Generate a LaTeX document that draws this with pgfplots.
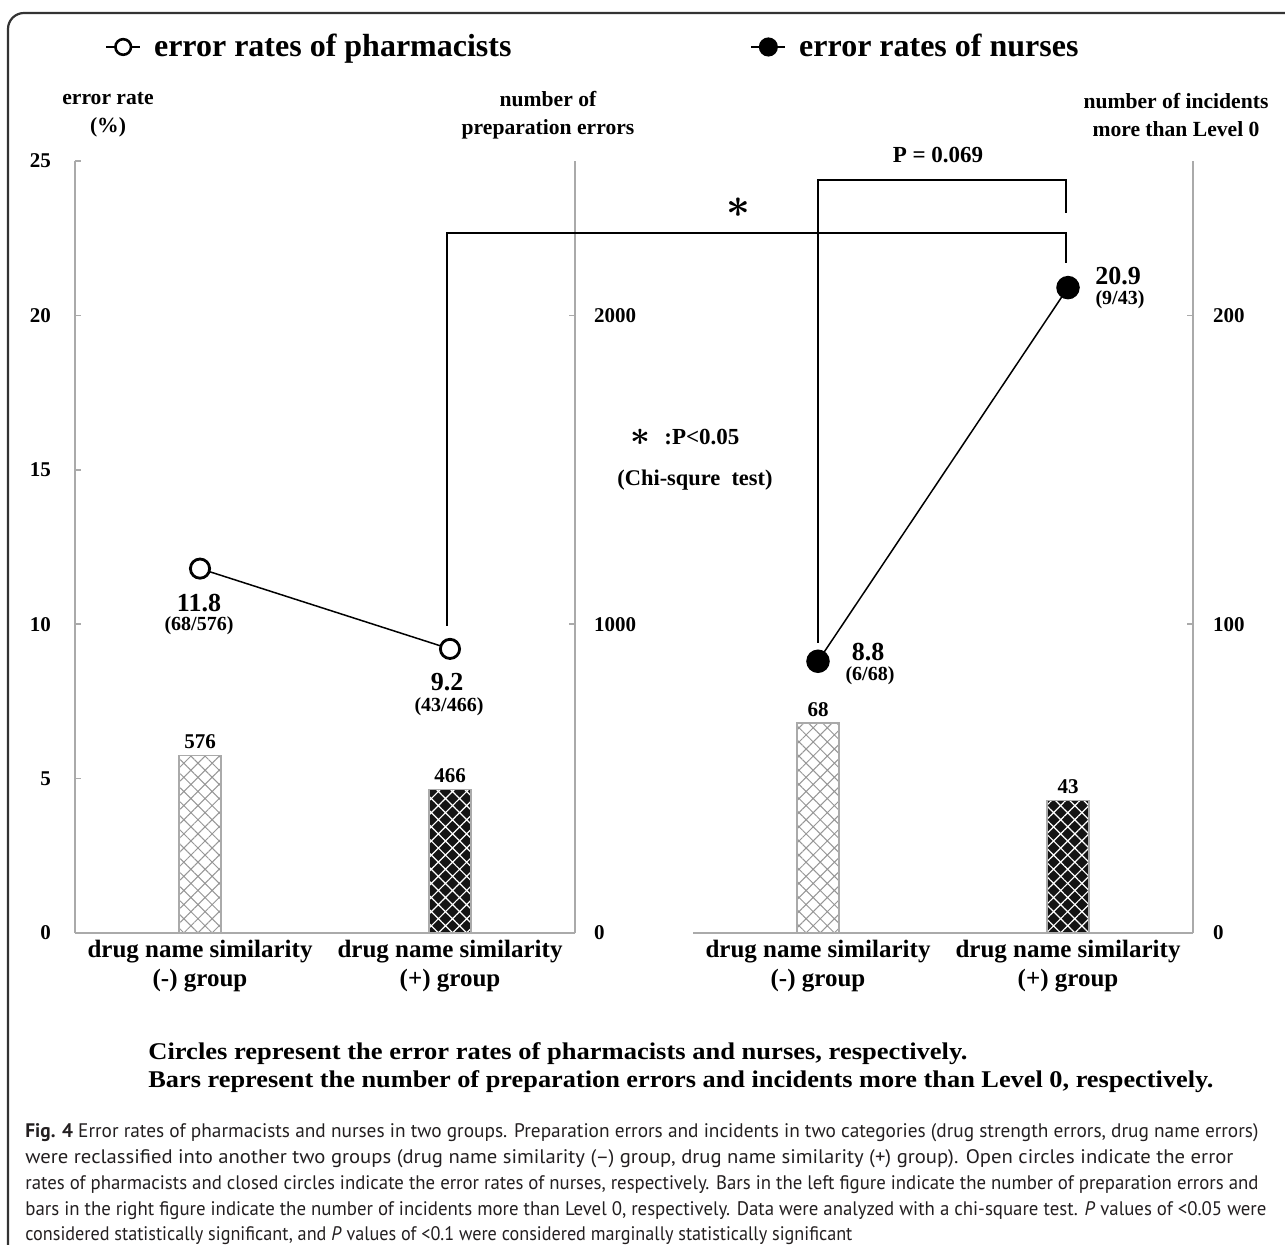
\documentclass[border=0pt]{standalone}
\usepackage{pgfplots}
\pgfplotsset{compat=1.18}
\usetikzlibrary{patterns.meta}
\usepackage{graphicx}
\usepackage{bm}
\usepackage{fontspec}
\setmainfont{Liberation Serif}
\newfontfamily\capfont{PT Sans}
\definecolor{axgray}{RGB}{170,170,170}
\definecolor{hatchgray}{RGB}{150,150,150}
\definecolor{captext}{RGB}{35,31,32}
\newcommand{\fs}[2]{\fontsize{#1}{#2}\selectfont}
\newcommand{\bast}{\ensuremath{\bm{\ast}}}
\pgfplotsset{
  panel/.style={
    scale only axis, width=250pt, height=386pt,
    xmin=-0.5, xmax=1.5, ymin=0, clip=false, anchor=south west,
    axis line style={axgray, line width=1pt, -},
    tick style={axgray, line width=0.8pt},
    major tick length=3pt, tick align=inside,
    /pgf/number format/1000 sep={},
    /pgf/number format/assume math mode=true,
    ticklabel style={font=\bfseries\fs{10.5}{12}},
    xticklabel style={align=center, font=\bfseries\fs{12.5}{14.5}},
    major x tick style={draw=none},
  },
  lightbar/.style={ybar, bar width=21pt, draw=axgray, line width=0.6pt,
    pattern={Hatch[angle=45,distance=5pt,line width=0.5pt]}, pattern color=hatchgray},
  darkbar/.style={ybar, bar width=21pt, draw=axgray, line width=0.6pt,
    pattern={Hatch[angle=45,distance=5pt,line width=0.6pt]}, pattern color=white},
  barlabel/.style={draw=none, mark=none, nodes near coords, point meta=y,
    every node near coord/.append style={font=\bfseries\fs{10.5}{12}, black, anchor=south, inner sep=3pt}},
}
\begin{document}
\begin{tikzpicture}
\path[use as bounding box] (0,0) rectangle (642.5pt,622pt);
\clip (0,0) rectangle (642.5pt,622pt);
\draw[line width=1.1pt, black!80, rounded corners=8pt] (4pt,-20pt) -- (4pt,615.5pt) -- (670pt,615.5pt);

% ---------- left panel: bars (number of preparation errors)
\begin{axis}[panel, at={(37.5pt,155.5pt)}, ymax=2500,
  axis y line*=right, axis x line=none, xtick=\empty,
  ytick={0,1000,2000}, yticklabel style={xshift=6pt}]
\addplot[ybar, bar width=21pt, draw=none, fill=white] coordinates {(0,576)};
\addplot[lightbar] coordinates {(0,576)};
\addplot[ybar, bar width=21pt, draw=none, fill=black!92] coordinates {(1,466)};
\addplot[darkbar] coordinates {(1,466)};
\addplot[barlabel] coordinates {(0,576) (1,466)};
\end{axis}

% ---------- left panel: error rates of pharmacists
\begin{axis}[panel, at={(37.5pt,155.5pt)}, ymax=25,
  axis x line*=bottom, axis y line*=left,
  ytick={0,5,10,15,20,25}, yticklabel style={xshift=-8.5pt},
  xtick={0,1},
  xticklabels={{drug name similarity\\(-) group},{drug name similarity\\(+) group}},
  legend columns=2, legend cell align=left,
  legend style={at={(0.06,1.1477)}, anchor=west, draw=none, fill=none, inner sep=0pt,
    font=\bfseries\fs{16}{18}, nodes={inner sep=0pt},
    /tikz/every odd column/.append style={column sep=6.5pt},
    /tikz/every even column/.append style={column sep=119.5pt}}]
% significance brackets
\addplot[black, line width=0.75pt, forget plot] coordinates {(0.988,9.95) (0.988,22.67) (3.464,22.67) (3.464,21.7)};
\addplot[black, line width=0.75pt, forget plot] coordinates {(2.472,9.4) (2.472,24.38) (3.464,24.38) (3.464,23.3)};
\addplot[black, line width=0.75pt, mark=*, mark size=4.8pt,
  mark options={line width=1.4pt, fill=white, draw=black}, forget plot] coordinates {(0,11.8) (1,9.2)};
\addlegendimage{black, line width=0.75pt, mark=*, mark size=3.9pt, mark options={line width=1.3pt, fill=white, draw=black}}
\addlegendentry{error rates of pharmacists}
\addlegendimage{black, line width=0.75pt, mark=*, mark size=4.4pt}
\addlegendentry{error rates of nurses}
\end{axis}

% ---------- right panel: bars (number of incidents)
\begin{axis}[panel, at={(346.5pt,155.5pt)}, ymax=250,
  axis y line*=right, axis x line=none, xtick=\empty,
  ytick={0,100,200}, yticklabel style={xshift=6.5pt}]
\addplot[ybar, bar width=21pt, draw=none, fill=white] coordinates {(0,68)};
\addplot[lightbar] coordinates {(0,68)};
\addplot[ybar, bar width=21pt, draw=none, fill=black!92] coordinates {(1,43)};
\addplot[darkbar] coordinates {(1,43)};
\addplot[barlabel] coordinates {(0,68) (1,43)};
\end{axis}

% ---------- right panel: error rates of nurses
\begin{axis}[panel, at={(346.5pt,155.5pt)}, ymax=25,
  axis x line*=bottom, axis y line=none, ytick=\empty,
  xtick={0,1},
  xticklabels={{drug name similarity\\(-) group},{drug name similarity\\(+) group}}]
\addplot[black, line width=0.75pt, mark=*, mark size=5.5pt] coordinates {(0,8.8) (1,20.9)};
\end{axis}

% ---------- free text (pixel coordinates)
\begin{scope}[x=0.5pt, y=-0.5pt, shift={(0pt,622pt)}]
\node[font=\bfseries\fs{10.8}{14}, align=center] at (108,115) {error rate\\(\%)};
\node[font=\bfseries\fs{10.8}{14}, align=center] at (548,115) {number of\\preparation errors};
\node[font=\bfseries\fs{10.8}{14}, align=center] at (1176,115) {number of incidents\\more than Level 0};
\node[font=\bfseries\fs{11.5}{13}] at (938,155) {P = 0.069};
\node[font=\fs{22}{22}] at (738,208) {\bast};
\node[font=\fs{16}{16}] at (640,437) {\bast};
\node[font=\bfseries\fs{11.5}{13}, anchor=west, inner sep=0pt] at (664,437) {:P<0.05};
\node[font=\bfseries\fs{11.2}{13}] at (695,480) {(Chi-squre\ \ test)};
\node[font=\bfseries\fs{13}{15}] at (199,603) {11.8};
\node[font=\bfseries\fs{10}{12}] at (199,626) {(68/576)};
\node[font=\bfseries\fs{13}{15}] at (447,682) {9.2};
\node[font=\bfseries\fs{10}{12}] at (449,707) {(43/466)};
\node[font=\bfseries\fs{13}{15}] at (868,652) {8.8};
\node[font=\bfseries\fs{10}{12}] at (870,676) {(6/68)};
\node[font=\bfseries\fs{13}{15}] at (1118,276) {20.9};
\node[font=\bfseries\fs{10}{12}] at (1120,300) {(9/43)};
\node[anchor=west, inner sep=0pt, font=\bfseries\fs{12}{14}] at (148,1054)
  {\resizebox{409.5pt}{\height}{Circles represent the error rates of pharmacists and nurses, respectively.}};
\node[anchor=west, inner sep=0pt, font=\bfseries\fs{12}{14}] at (148,1082)
  {\resizebox{532.5pt}{\height}{Bars represent the number of preparation errors and incidents more than Level 0, respectively.}};
\begin{scope}[every node/.style={anchor=base west, inner sep=0pt, font=\capfont\fs{9.8}{12}, text=captext}]
\node at (25,1137) {\resizebox{616.5pt}{\height}{{\bfseries Fig. 4} Error rates of pharmacists and nurses in two groups. Preparation errors and incidents in two categories (drug strength errors, drug name errors)}};
\node at (25,1163) {\resizebox{604pt}{\height}{were reclassified into another two groups (drug name similarity (\textendash) group, drug name similarity (+) group). Open circles indicate the error}};
\node at (25,1189) {\resizebox{616.5pt}{\height}{rates of pharmacists and closed circles indicate the error rates of nurses, respectively. Bars in the left figure indicate the number of preparation errors and}};
\node at (25,1215) {\resizebox{620.5pt}{\height}{bars in the right figure indicate the number of incidents more than Level 0, respectively. Data were analyzed with a chi-square test. \textit{P} values of <0.05 were}};
\node at (25,1240) {\resizebox{413.5pt}{\height}{considered statistically significant, and \textit{P} values of <0.1 were considered marginally statistically significant}};
\end{scope}
\end{scope}
\end{tikzpicture}
\end{document}
